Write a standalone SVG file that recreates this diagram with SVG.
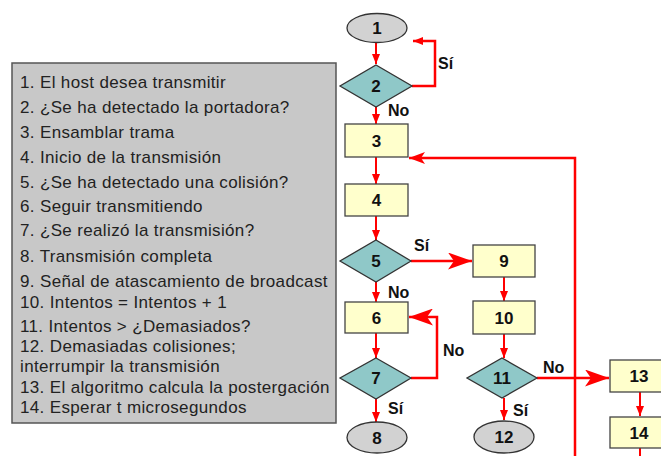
<svg xmlns="http://www.w3.org/2000/svg" width="661" height="456" viewBox="0 0 661 456">
<style>
.box{fill:#ffffcc;stroke:#444;stroke-width:1.3}
.dia{fill:#8fc8c8;stroke:#333;stroke-width:1.3}
.ell{fill:#d2d2d2;stroke:#333;stroke-width:1.3}
.lbl{font-family:"Liberation Sans",Arial,sans-serif;font-weight:bold;font-size:17px;fill:#111;text-anchor:middle}
.yn{font-family:"Liberation Sans",Arial,sans-serif;font-weight:bold;font-size:16px;fill:#111}
.leg{font-family:"Liberation Sans",Arial,sans-serif;font-size:17px;fill:#222;letter-spacing:0.35px}
.c{fill:none;stroke:#ff0000;stroke-width:2}
.cw{fill:none;stroke:#ff0000;stroke-width:2.5}
</style>
<defs>
<marker id="sm" viewBox="0 0 10 8" markerWidth="10" markerHeight="8" refX="10" refY="4" orient="auto" markerUnits="userSpaceOnUse"><path d="M0,0 L10,4 L0,8 z" fill="#ff0000"/></marker>
<marker id="md" viewBox="0 0 16 12" markerWidth="16" markerHeight="12" refX="16" refY="6" orient="auto" markerUnits="userSpaceOnUse"><path d="M0,0 L16,6 L0,12 L4,6 z" fill="#ff0000"/></marker>
<marker id="lg" viewBox="0 0 24 17" markerWidth="24" markerHeight="17" refX="24" refY="8.5" orient="auto" markerUnits="userSpaceOnUse"><path d="M0,0 L24,8.5 L0,17 L6,8.5 z" fill="#ff0000"/></marker>
</defs>
<rect width="661" height="456" fill="#ffffff"/>

<g id="legend">
<rect x="12" y="63" width="324" height="360" fill="#c8c8c8" stroke="#555" stroke-width="1.5"/>
<text class="leg" x="20" y="88">1. El host desea transmitir</text>
<text class="leg" x="20" y="113">2. ¿Se ha detectado la portadora?</text>
<text class="leg" x="20" y="138">3. Ensamblar trama</text>
<text class="leg" x="20" y="163">4. Inicio de la transmisión</text>
<text class="leg" x="20" y="188">5. ¿Se ha detectado una colisión?</text>
<text class="leg" x="20" y="212">6. Seguir transmitiendo</text>
<text class="leg" x="20" y="236">7. ¿Se realizó la transmisión?</text>
<text class="leg" x="20" y="262">8. Transmisión completa</text>
<text class="leg" x="20" y="287">9. Señal de atascamiento de broadcast</text>
<text class="leg" x="20" y="308">10. Intentos = Intentos + 1</text>
<text class="leg" x="20" y="332">11. Intentos &gt; ¿Demasiados?</text>
<text class="leg" x="20" y="352">12. Demasiadas colisiones;</text>
<text class="leg" x="20" y="372">interrumpir la transmisión</text>
<text class="leg" x="20" y="393">13. El algoritmo calcula la postergación</text>
<text class="leg" x="20" y="413">14. Esperar t microsegundos</text>
</g>

<g id="connectors">
<path class="c" d="M376,43 V64" marker-end="url(#sm)"/>
<path class="cw" d="M412,86 H435 V41 H413" marker-end="url(#sm)"/>
<path class="c" d="M376,107 V124" marker-end="url(#sm)"/>
<path class="c" d="M376,157 V184" marker-end="url(#sm)"/>
<path class="c" d="M376,216 V240" marker-end="url(#sm)"/>
<path class="cw" d="M411,261 H472" marker-end="url(#lg)"/>
<path class="c" d="M376,282 V302" marker-end="url(#sm)"/>
<path class="c" d="M376,333 V358" marker-end="url(#sm)"/>
<path class="c" d="M376,399 V422" marker-end="url(#sm)"/>
<path class="cw" d="M411,378 H437 V317 H409" marker-end="url(#lg)"/>
<path class="c" d="M504,277 V301" marker-end="url(#sm)"/>
<path class="c" d="M504,334 V358" marker-end="url(#sm)"/>
<path class="c" d="M504,398 V420" marker-end="url(#sm)"/>
<path class="cw" d="M537,378 H609" marker-end="url(#lg)"/>
<path class="c" d="M640,392 V416" marker-end="url(#sm)"/>
<path class="c" d="M640,448 V456"/>
<path class="cw" d="M575,456 V158 H409" marker-end="url(#md)"/>
</g>

<g id="n1"><ellipse class="ell" cx="377" cy="28" rx="30" ry="14.5"/><text class="lbl" x="377" y="34">1</text></g>
<g id="n2"><polygon class="dia" points="376,65 412,86 376,107 340,86"/><text class="lbl" x="376" y="92">2</text></g>
<g id="n3"><rect class="box" x="345" y="124" width="63" height="33"/><text class="lbl" x="376.5" y="147">3</text></g>
<g id="n4"><rect class="box" x="345" y="184" width="63" height="32"/><text class="lbl" x="376.5" y="206">4</text></g>
<g id="n5"><polygon class="dia" points="376,240 411,261 376,282 340,261"/><text class="lbl" x="376" y="267">5</text></g>
<g id="n6"><rect class="box" x="345" y="302" width="63" height="31"/><text class="lbl" x="376.5" y="324">6</text></g>
<g id="n7"><polygon class="dia" points="376,358 411,378 376,399 340,378"/><text class="lbl" x="376" y="384">7</text></g>
<g id="n8"><ellipse class="ell" cx="377" cy="437.5" rx="30" ry="15.5"/><text class="lbl" x="377" y="444">8</text></g>
<g id="n9"><rect class="box" x="473" y="245" width="62" height="32"/><text class="lbl" x="504" y="267">9</text></g>
<g id="n10"><rect class="box" x="473" y="301" width="62" height="33"/><text class="lbl" x="504" y="324">10</text></g>
<g id="n11"><polygon class="dia" points="502,358 537,378 502,398 467,378"/><text class="lbl" x="502" y="384">11</text></g>
<g id="n12"><ellipse class="ell" cx="504" cy="437" rx="30" ry="16"/><text class="lbl" x="504" y="443">12</text></g>
<g id="n13"><rect class="box" x="610" y="360" width="63" height="32"/><text class="lbl" x="639" y="382">13</text></g>
<g id="n14"><rect class="box" x="610" y="417" width="63" height="31"/><text class="lbl" x="639" y="439">14</text></g>

<g id="labels">
<text class="yn" x="438" y="69">Sí</text>
<text class="yn" x="388" y="116">No</text>
<text class="yn" x="414" y="251">Sí</text>
<text class="yn" x="388" y="298">No</text>
<text class="yn" x="443" y="356">No</text>
<text class="yn" x="388" y="414">Sí</text>
<text class="yn" x="513" y="416">Sí</text>
<text class="yn" x="543" y="373">No</text>
</g>
</svg>
